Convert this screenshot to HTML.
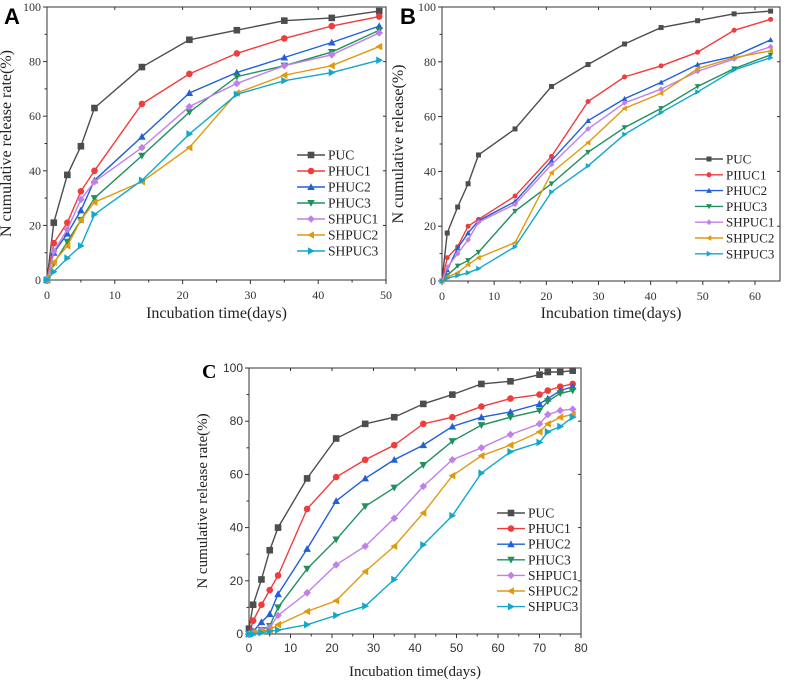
<!DOCTYPE html>
<html><head><meta charset="utf-8"><style>
html,body{margin:0;padding:0;background:#fff;}
svg{display:block;}
</style></head><body>
<svg id="fig" width="785" height="681" xmlns="http://www.w3.org/2000/svg"></svg>
<script>
const seriesNames = ["PUC","PHUC1","PHUC2","PHUC3","SHPUC1","SHPUC2","SHPUC3"];
const seriesNamesB = ["PUC","PIIUC1","PHUC2","PHUC3","SHPUC1","SHPUC2","SHPUC3"];
const colors = ["#4d4d4d","#f03c3c","#2060d8","#20905c","#c080e8","#e09a10","#10a8cc"];
const markers = ["square","circle","up","down","diamond","left","right"];

const daysA = [0,1,3,5,7,14,21,28,35,42,49];
const pucA = [0,21,38.5,49,63,78,88,91.5,95,96,98.5];
const phuc1A = [0,13.5,21,32.5,40,64.5,75.5,83,88.5,93,96.5];
const phuc2A = [0,10,17,25.5,36.5,52.5,68.5,76,81.5,87,93];
const phuc3A = [0,6,14,22,30,45.5,61.5,74.5,78.5,83.5,91.5];
const shpuc1A = [0,10.5,18.5,29.5,36,48.5,63.5,72,78.5,82.5,90.5];
const shpuc2A = [0,6.5,12.5,22,28.5,36,48.5,68.5,75,78.5,85.5];
const shpuc3A = [0,3,8,12.5,24,36.5,53.5,68,73,76,80.5];

const daysB = [0,1,3,5,7,14,21,28,35,42,49,56,63];
const pucB = [0,17.5,27,35.5,46,55.5,71,79,86.5,92.5,95,97.5,98.5];
const phuc1B = [0,8.5,12.5,20,22.5,31,45.5,65.5,74.5,78.5,83.5,91.5,95.5];
const phuc2B = [0,4,12,17.5,22,29,44,58.5,66.5,72.5,79,82,88];
const phuc3B = [0,2,5.5,7.5,10.5,25.5,35.5,47,56,63,71,77.5,82.5];
const shpuc1B = [0,5,10,15,21.5,28,42.5,55.5,65,70,76.5,81,85.5];
const shpuc2B = [0,1.5,3,6,8.5,14,39.5,50.5,63,68.5,77.5,81.5,84];
const shpuc3B = [0,1,2,3,4.5,12.5,32.5,42,53.5,61.5,69,77,81.5];

const daysC = [0,1,3,5,7,14,21,28,35,42,49,56,63,70,72,75,78];
const pucC = [2,11,20.5,31.5,40,58.5,73.5,79,81.5,86.5,90,94,95,97.5,98.5,98.5,99];
const phuc1C = [0,5,11,16.5,22,47,59,65.5,71,79,81.5,85.5,88.5,90,91.5,93,94];
const phuc2C = [0,1,4.5,7.5,15,32,50,58.5,65.5,71,78,81.5,83.5,86.5,88.5,91.5,93];
const phuc3C = [0,0.5,1.5,3,10,24.5,35.5,48,55,63.5,72.5,78.5,81.5,84,87.5,90.5,91.5];
const shpuc1C = [0,0.5,1.5,2.5,7,15.5,26,33,43.5,55.5,65.5,70,75,79,82.5,84,84.5];
const shpuc2C = [0,0.5,1,1.5,3.5,8.5,12.5,23.5,33,45.5,59.5,67,71,76,79,81.5,82.5];
const shpuc3C = [0,0,0.5,1,1.5,3.5,7,10.5,20.5,33.5,44.5,60.5,68.5,72,76,78,81.5];

const xTicksA = [0,10,20,30,40,50];
const xTicksB = [0,10,20,30,40,50,60];
const xTicksC = [0,10,20,30,40,50,60,70,80];
const yTicks = [0,20,40,60,80,100];

const NS="http://www.w3.org/2000/svg";
const svg=document.getElementById('fig');
function mk(tag,attrs,parent){const e=document.createElementNS(NS,tag);for(const k in attrs)e.setAttribute(k,attrs[k]);(parent||svg).appendChild(e);return e;}

function marker(g,type,x,y,r,color){
  let e;
  if(type==="square") e=mk('rect',{x:x-r,y:y-r,width:2*r,height:2*r,fill:color},g);
  else if(type==="circle") e=mk('circle',{cx:x,cy:y,r:r,fill:color},g);
  else {
    let p;
    const s=r*1.15;
    if(type==="up") p=[[x,y-s],[x+s,y+s*0.8],[x-s,y+s*0.8]];
    if(type==="down") p=[[x,y+s],[x+s,y-s*0.8],[x-s,y-s*0.8]];
    if(type==="left") p=[[x-s,y],[x+s*0.8,y-s],[x+s*0.8,y+s]];
    if(type==="right") p=[[x+s,y],[x-s*0.8,y-s],[x-s*0.8,y+s]];
    if(type==="diamond") p=[[x,y-s],[x+s,y],[x,y+s],[x-s,y]];
    e=mk('polygon',{points:p.map(q=>q.join(',')).join(' '),fill:color},g);
  }
  return e;
}

function panel(cfg){
  const g=mk('g',{});
  
  
  const sx=v=>cfg.l+(v-cfg.xmin)/(cfg.xmax-cfg.xmin)*(cfg.r-cfg.l);
  const sy=v=>cfg.b-(v/100)*(cfg.b-cfg.t);
  const tickFont=cfg.tickFont;
  const fr=mk('rect',{x:cfg.l,y:cfg.t,width:cfg.r-cfg.l,height:cfg.b-cfg.t,fill:'none',stroke:'#333','stroke-width':1},g);
  
  
  for(let i=0;i<cfg.xticks.length;i++){
    const v=cfg.xticks[i];const x=sx(v);
    mk('line',{x1:x,y1:cfg.b,x2:x,y2:cfg.b+4,stroke:'#333'},g);
    if(v>cfg.xmin&&v<cfg.xmax) mk('line',{x1:x,y1:cfg.t,x2:x,y2:cfg.t+3,stroke:'#333'},g);
    if(i<cfg.xticks.length-1){const xm=sx(v+5);if(xm<cfg.r){mk('line',{x1:xm,y1:cfg.b,x2:xm,y2:cfg.b+2.5,stroke:'#333'},g);}}
    const t=mk('text',{x:x,y:cfg.b+cfg.xlOff,'text-anchor':'middle','font-size':cfg.tfs,'font-family':tickFont,fill:'#333'},g);
    t.textContent=v;
    
    
  }
  for(const v of yTicks){
    const y=sy(v);
    mk('line',{x1:cfg.l,y1:y,x2:cfg.l-4,y2:y,stroke:'#333'},g);
    if(v>0&&v<100) mk('line',{x1:cfg.r,y1:y,x2:cfg.r-3,y2:y,stroke:'#333'},g);
    if(v<100){const ym=sy(v+10);mk('line',{x1:cfg.l,y1:ym,x2:cfg.l-2.5,y2:ym,stroke:'#333'},g);}
    const t=mk('text',{x:cfg.l-6,y:y+4,'text-anchor':'end','font-size':cfg.tfs,'font-family':tickFont,fill:'#333'},g);
    t.textContent=v;
    
    
  }
  const xt=mk('text',{x:(cfg.l+cfg.r)/2,y:cfg.xtY,'text-anchor':'middle','font-size':cfg.titleFs,'font-family':'"Liberation Serif",serif',fill:'#222'},g);
  xt.textContent='Incubation time(days)';
  
  
  const yc=(cfg.t+cfg.b)/2;
  const yt=mk('text',{x:cfg.ytX,y:yc,'text-anchor':'middle','font-size':cfg.titleFs,'font-family':'"Liberation Serif",serif',fill:'#222',transform:`rotate(-90 ${cfg.ytX} ${yc})`},g);
  yt.textContent=cfg.ytitle;
  
  
  const pl=mk('text',{x:cfg.lx,y:cfg.ly,'font-size':cfg.lfs,'font-weight':'bold','font-family':cfg.lfont,fill:'#000'},g);
  pl.textContent=cfg.id;
  
  
  for(let s=0;s<cfg.series.length;s++){
    const vals=cfg.series[s];
    const sg=mk('g',{},g);
    
    
    const pts=cfg.days.map((d,i)=>[sx(d),sy(vals[i])]);
    mk('polyline',{points:pts.map(p=>p.join(',')).join(' '),fill:'none',stroke:colors[s],'stroke-width':1.4},sg);
    pts.forEach(p=>{const m=marker(sg,markers[s],p[0],p[1],cfg.mr,colors[s]);
      
      });
  }
  for(let s=0;s<7;s++){
    const y=cfg.legY+s*cfg.legDy;
    const lg=mk('g',{},g);
    
    
    mk('line',{x1:cfg.legX,y1:y,x2:cfg.legX+28,y2:y,stroke:colors[s],'stroke-width':1.4},lg);
    marker(lg,markers[s],cfg.legX+14,y,cfg.mr,colors[s]);
    const t=mk('text',{x:cfg.legX+31,y:y+4.5,'font-size':cfg.legFs,'font-family':'"Liberation Serif",serif',fill:'#222'},lg);
    t.textContent=cfg.names[s];
  }
}

panel({id:'A',l:47,r:386,t:7,b:280,xmin:0,xmax:50,xticks:xTicksA,days:daysA,
  series:[pucA,phuc1A,phuc2A,phuc3A,shpuc1A,shpuc2A,shpuc3A],names:seriesNames,
  tickFont:'"Liberation Serif",serif',tfs:12,xlOff:19,titleFs:16,xtY:318,ytX:11,ytitle:'N cumulative release rate(%)',
  lx:4,ly:24,lfs:22,lfont:'"Liberation Sans",sans-serif',mr:3.3,legX:297,legY:155,legDy:16,legFs:13.5});
panel({id:'B',l:442,r:780,t:7,b:281,xmin:0,xmax:64.8,xticks:xTicksB,days:daysB,
  series:[pucB,phuc1B,phuc2B,phuc3B,shpuc1B,shpuc2B,shpuc3B],names:seriesNamesB,
  tickFont:'"Liberation Serif",serif',tfs:12,xlOff:19,titleFs:16,xtY:318,ytX:403,ytitle:'N cumulative release(%)',
  lx:400,ly:24,lfs:22,lfont:'"Liberation Sans",sans-serif',mr:2.5,legX:695,legY:159,legDy:15.8,legFs:13});
panel({id:'C',l:249,r:581,t:368,b:634,xmin:0,xmax:80,xticks:xTicksC,days:daysC,
  series:[pucC,phuc1C,phuc2C,phuc3C,shpuc1C,shpuc2C,shpuc3C],names:seriesNames,
  tickFont:'"Liberation Sans",sans-serif',tfs:12,xlOff:18,titleFs:15,xtY:676,ytX:207,ytitle:'N cumulative release rate(%)',
  lx:202,ly:378,lfs:20,lfont:'"Liberation Serif",serif',mr:3.3,legX:497,legY:513,legDy:15.6,legFs:13.5});
</script>
</body></html>
